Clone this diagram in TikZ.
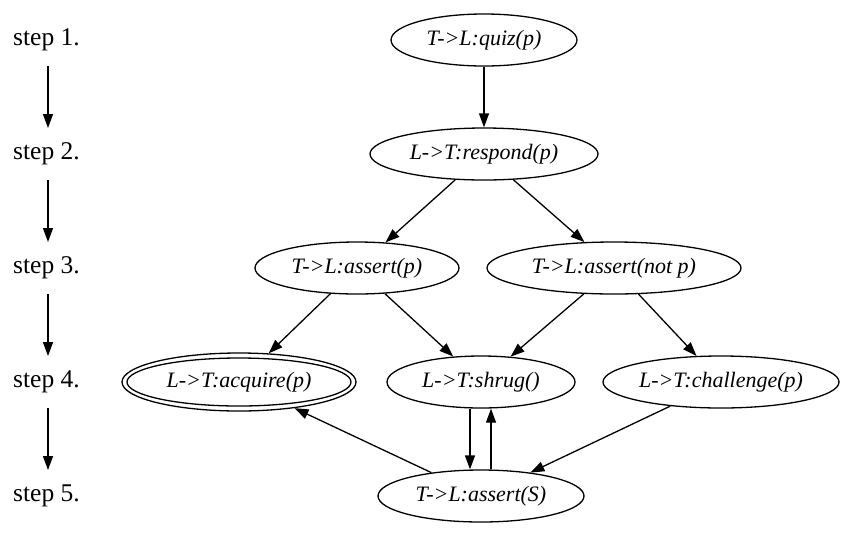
\documentclass[tikz,border=0pt]{standalone}
\usepackage{fontspec}
\setmainfont{Liberation Serif}
\usetikzlibrary{shapes.geometric,arrows.meta}
\begin{document}
\begin{tikzpicture}[x=1pt,y=-1pt,
  every node/.style={inner sep=0pt},
  stat/.style={draw, ellipse, line width=1.3pt, font=\fontsize{22}{26}\selectfont\itshape},
  steplab/.style={anchor=west, font=\fontsize{25.5}{30}\selectfont},
  arr/.style={line width=1.3pt, -{Triangle[length=14pt,width=10pt]}}]
\useasboundingbox (0,0) rectangle (845,539);
% step labels
\node[steplab] (s1) at (13,40) {step 1.};
\node[steplab] (s2) at (13,154) {step 2.};
\node[steplab] (s3) at (13,268) {step 3.};
\node[steplab] (s4) at (13,382) {step 4.};
\node[steplab] (s5) at (13,496) {step 5.};
\coordinate (a1) at (48,66);
\coordinate (b1) at (48,128);
\coordinate (a2) at (48,180);
\coordinate (b2) at (48,242);
\coordinate (a3) at (48,294);
\coordinate (b3) at (48,356);
\coordinate (a4) at (48,408);
\coordinate (b4) at (48,470);
\draw[arr] (a1) -- (b1);
\draw[arr] (a2) -- (b2);
\draw[arr] (a3) -- (b3);
\draw[arr] (a4) -- (b4);
% states
\node[stat, minimum width=186pt, minimum height=52pt] (quiz) at (484,40) {T->L:quiz(p)};
\node[stat, minimum width=228pt, minimum height=52pt] (resp) at (484,154) {L->T:respond(p)};
\node[stat, minimum width=204pt, minimum height=52pt] (ap) at (357,268) {T->L:assert(p)};
\node[stat, minimum width=254pt, minimum height=52pt] (anp) at (614,268) {T->L:assert(not p)};
\node[stat, minimum width=234pt, minimum height=58pt] (acq) at (239,382) {};
\node[stat, minimum width=224pt, minimum height=48pt] (acqin) at (239,382) {L->T:acquire(p)};
\node[stat, minimum width=188pt, minimum height=52pt] (shrug) at (481,382) {L->T:shrug()};
\node[stat, minimum width=236pt, minimum height=52pt] (chal) at (721,382) {L->T:challenge(p)};
\node[stat, minimum width=206pt, minimum height=52pt] (aS) at (481,496) {T->L:assert(S)};
% edges
\draw[arr] (quiz) -- (resp);
\draw[arr] (resp) -- (ap);
\draw[arr] (resp) -- (anp);
\draw[arr] (ap) -- (acq);
\draw[arr] (ap) -- (shrug);
\draw[arr] (anp) -- (shrug);
\draw[arr] (anp) -- (chal);
\draw[arr] ([xshift=-11pt]shrug.south) -- ([xshift=-11pt]aS.north);
\draw[arr] ([xshift=10pt]aS.north) -- ([xshift=10pt]shrug.south);
\draw[arr] (chal) -- (aS);
\draw[arr] (aS) -- (acq);
\end{tikzpicture}
\end{document}
